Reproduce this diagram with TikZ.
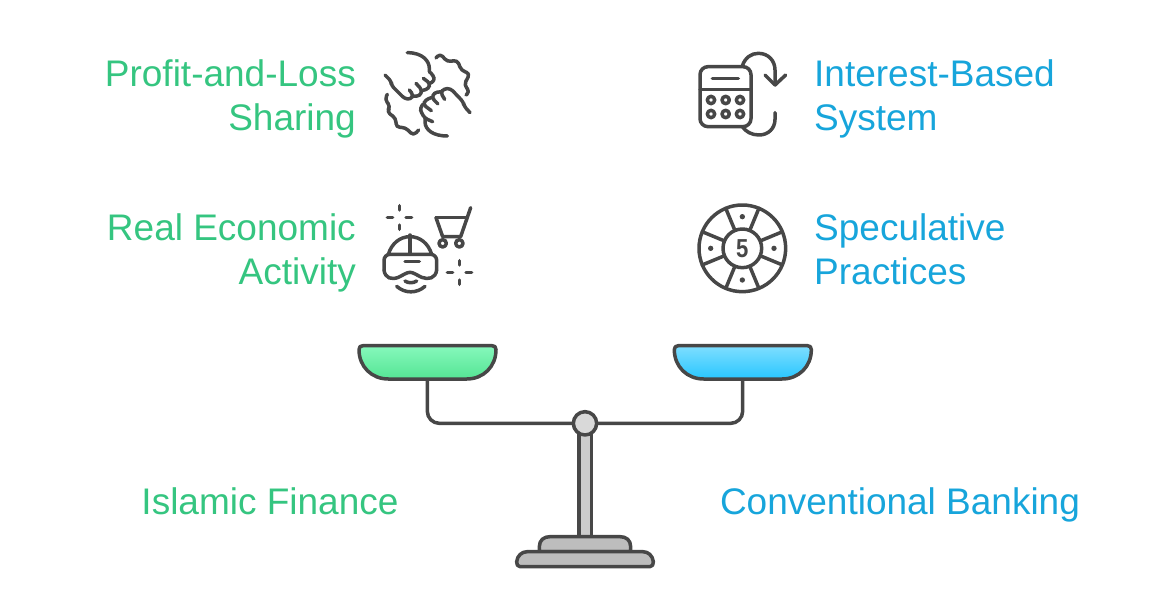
\documentclass[tikz,border=0pt]{standalone}
\usepackage{fontspec}
\setmainfont{Liberation Sans}
\usetikzlibrary{positioning}
\usetikzlibrary{calc}
\definecolor{islam}{HTML}{35C580}
\definecolor{conv}{HTML}{17A5DB}
\definecolor{ink}{HTML}{474747}
\tikzset{
  label/.style={font=\fontsize{37}{44}\selectfont, inner sep=0pt, align=left},
  iconline/.style={draw=ink, line width=3.5pt, line cap=round, line join=round},
  scaleline/.style={draw=ink, line width=3.5pt, line cap=round, line join=round}
}
\begin{document}
\begin{tikzpicture}[x=1pt,y=-1pt]
 \useasboundingbox (0,0) rectangle (1170,600);

 %left labels
 \foreach \i/\name/\ypos in {a/Profit-and-Loss/86, b/Sharing/130, c/Real Economic/240, d/Activity/284} {
    \node[label, text=islam, anchor=base east] (left\i) at (356,\ypos) {\name};
 }
 %right labels
 \foreach \i/\name/\ypos in {a/Interest-Based/86, b/System/130, c/Speculative/240, d/Practices/284} {
    \node[label, text=conv, anchor=base west] (right\i) at (814,\ypos) {\name};
 }
 \node[label, text=islam, anchor=base] (islamic) at (270,514) {Islamic Finance};
 \node[label, text=conv, anchor=base] (conventional) at (900,514) {Conventional Banking};

 %hands
 \begin{scope}[shift={(370,40)},scale=1/3]
  \draw[iconline] (112,38) .. controls (160,38) and (178,65) .. (178,85) -- (178,95);
  \draw[iconline, rounded corners=3pt] (45,105) -- (64,124) -- (64,136) -- (104,176) -- (122,178) -- (130,165) -- (118,150);
  \draw[iconline, rounded corners=3pt] (128,168) -- (150,168) -- (156,150) -- (138,130);
  \draw[iconline, rounded corners=3pt] (156,152) -- (176,146) -- (180,130) -- (160,115);
  \draw[iconline, rounded corners=3pt] (180,130) -- (194,122) -- (190,106) -- (178,95);
  \draw[iconline, rounded corners=4pt] (52,163) -- (44,178) -- (62,200) -- (50,215) -- (78,235) -- (78,262) -- (106,262) -- (130,287) -- (146,270);
  \draw[iconline, rounded corners=4pt] (198,54) -- (210,40) -- (232,66) -- (262,60) -- (274,92) -- (300,100) -- (282,135) -- (300,155) -- (288,165);
  \draw[iconline] (232,288) .. controls (190,288) and (165,270) .. (165,245) -- (165,235);
  \draw[iconline, rounded corners=3pt] (300,218) -- (282,198) -- (280,186) -- (242,146) -- (222,146) -- (212,158) -- (224,178);
  \draw[iconline, rounded corners=3pt] (214,155) -- (192,158) -- (186,174) -- (204,192);
  \draw[iconline, rounded corners=3pt] (186,172) -- (166,180) -- (160,194) -- (184,212);
  \draw[iconline, rounded corners=3pt] (160,192) -- (150,204) -- (154,218) -- (165,235) -- (188,245);
 \end{scope}

 %headset and cart
 \begin{scope}[shift={(370,195)},scale=1/3]
  \foreach \cx/\cy in {88/67, 268/232} {
    \draw[iconline] (\cx,\cy-35) -- (\cx,\cy-22);
    \draw[iconline] (\cx,\cy+23) -- (\cx,\cy+36);
    \draw[iconline] (\cx-36,\cy) -- (\cx-20,\cy);
    \draw[iconline] (\cx+20,\cy) -- (\cx+37,\cy);
  }
  \draw[iconline] (198,68) -- (288,68);
  \draw[iconline] (198,68) -- (218,125) -- (272,125) -- (302,38);
  \draw[iconline] (218,145) circle (11);
  \draw[iconline] (268,145) circle (11);
  \draw[iconline] (55,178) .. controls (65,145) and (90,125) .. (120,125) .. controls (150,125) and (175,145) .. (185,178);
  \draw[iconline] (120,120) -- (120,178);
  \draw[iconline, rounded corners=6pt] (42,225) -- (42,178) -- (200,178) -- (200,225);
  \draw[iconline] (42,225) .. controls (45,250) and (65,255) .. (85,247) .. controls (100,240) and (110,232) .. (120,232) .. controls (130,232) and (140,240) .. (155,247) .. controls (175,255) and (197,250) .. (200,225);
  \draw[iconline] (105,200) -- (148,200);
  \draw[iconline] (105,258) .. controls (115,265) and (130,265) .. (140,258);
  \draw[iconline] (80,274) .. controls (105,296) and (140,296) .. (165,274);
 \end{scope}

 %calculator
 \begin{scope}[shift={(685,40)},scale=1/3]
  \draw[iconline, rounded corners=8pt] (45,80) rectangle (198,260);
  \draw[iconline] (45,148) -- (198,148);
  \draw[iconline] (82,116) -- (160,116);
  \foreach \cx in {78,122,165} {
    \foreach \cy in {180,222} {
      \draw[iconline] (\cx,\cy) circle (11);
    }
  }
  \draw[iconline] (172,78) .. controls (180,52) and (200,40) .. (220,40) .. controls (250,40) and (270,62) .. (270,90) -- (270,135);
  \draw[iconline] (240,105) -- (270,135) -- (302,105);
  \draw[iconline] (270,218) -- (270,238) .. controls (270,265) and (250,285) .. (222,285) .. controls (200,285) and (182,275) .. (172,260);
 \end{scope}

 %chip
 \begin{scope}[shift={(685,195)},scale=1/3]
  \draw[iconline] (172,160) circle (130);
  \draw[iconline] (172,160) circle (58);
  \foreach \ang in {22.5,67.5,...,337.5} {
    \draw[iconline] ($(172,160)+(\ang:58)$) -- ($(172,160)+(\ang:130)$);
  }
  \foreach \ang in {0,90,180,270} {
    \fill[ink] ($(172,160)+(\ang:95)$) circle (8);
  }
  \node[text=ink, font=\bfseries\fontsize{26}{26}\selectfont, inner sep=0pt, xscale=0.85] (five) at (172,162) {5};
 \end{scope}

 %scale
 \begin{scope}[shift={(350,335)},scale=1/3]
  \draw[scaleline, rounded corners=12pt] (232,132) -- (232,265) -- (1178,265) -- (1178,132);
  \draw[scaleline, fill=black!20] (687,295) rectangle (724,605);
  \draw[scaleline, fill=black!26] (568,650) -- (568,635) .. controls (568,615) and (582,605) .. (600,605) -- (810,605) .. controls (828,605) and (842,615) .. (842,635) -- (842,650) -- cycle;
  \draw[scaleline, fill=black!26] (510,695) .. controls (502,695) and (500,688) .. (500,680) .. controls (502,662) and (515,650) .. (532,650) -- (878,650) .. controls (895,650) and (908,662) .. (910,680) .. controls (910,688) and (908,695) .. (900,695) -- cycle;
  \draw[scaleline, fill=black!15] (705,265) circle (35);
  \foreach \dx/\top/\bot in {0/86F8BC/54E594, 946/7FDEFF/28C6FF} {
    \definecolor{pantop}{HTML}{\top}
    \definecolor{panbot}{HTML}{\bot}
    \path[scaleline, top color=pantop, bottom color=panbot] (27+\dx,44) .. controls (27+\dx,36) and (31+\dx,32) .. (39+\dx,32) -- (426+\dx,32) .. controls (434+\dx,32) and (438+\dx,36) .. (438+\dx,44) .. controls (438+\dx,95) and (400+\dx,132) .. (350+\dx,132) -- (115+\dx,132) .. controls (65+\dx,132) and (27+\dx,95) .. (27+\dx,44) -- cycle;
  }
 \end{scope}
\end{tikzpicture}
\end{document}
